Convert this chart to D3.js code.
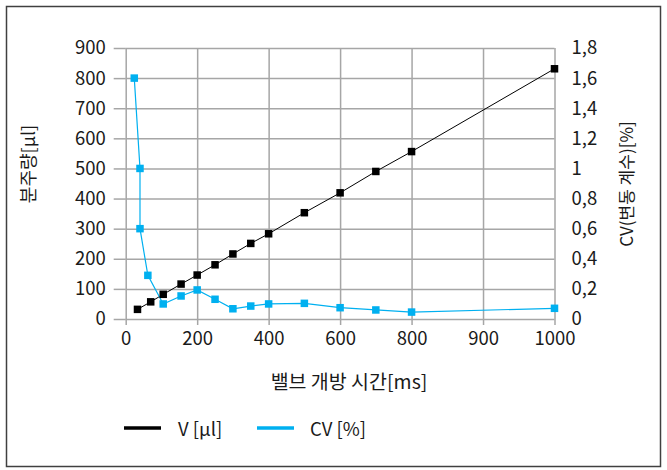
<!DOCTYPE html>
<html><head><meta charset="utf-8">
<script src="https://cdn.jsdelivr.net/npm/d3@7"></script>
<style>body{margin:0;background:#fff;} text{font-family:"Noto Sans CJK KR","Noto Sans",sans-serif;}</style>
</head><body><svg id="c" width="667" height="470"></svg>
<script>
// Data
const vTimes = [33, 70, 105, 155, 200, 250, 300, 350, 400, 500, 600, 700, 800, 1200];
const vValues = [32, 57, 82, 116, 146, 180, 216, 251, 283, 353, 419, 490, 556, 831];
const cvTimes = [24, 40, 40, 62, 105, 155, 200, 250, 300, 350, 400, 500, 600, 700, 800, 1200];
const cvValues = [1.6, 1.0, 0.6, 0.29, 0.10, 0.153, 0.193, 0.131, 0.068, 0.086, 0.10, 0.104, 0.075, 0.06, 0.046, 0.071];
const xTickValues = [0, 200, 400, 600, 800, 1000, 1200];
const xTickLabels = ["0", "200", "400", "600", "800", "900", "1000"];
const yLeftTicks = [0, 100, 200, 300, 400, 500, 600, 700, 800, 900];
const yRightTicks = [0, 0.2, 0.4, 0.6, 0.8, 1, 1.2, 1.4, 1.6, 1.8];
const xTitle = "밸브 개방 시간[ms]";
const yLeftTitle = "분주량[μl]";
const yRightTitle = "CV(변동 계수)[%]";
const legendNames = ["V [μl]", "CV [%]"];

const svg = d3.select("#c");
const L = 125.7, R = 554.5, T = 48, B = 319;
const x = d3.scaleLinear().domain([0, 1200]).range([L, R]);
const yL = d3.scaleLinear().domain([0, 900]).range([B, T]);
const yR = d3.scaleLinear().domain([0, 1.8]).range([B, T]);
const gridCol = "#a6a6a6";
const blue = "#00b0f0";
const txt = "#1a1a1a";
const fs = 18.5;

svg.append("rect").attr("x", 6.5).attr("y", 6.5).attr("width", 654).attr("height", 460)
  .attr("fill", "#fff").attr("stroke", "#404040").attr("stroke-width", 1.5);

// horizontal grid + left ticks
const gl = svg.append("g").attr("transform", `translate(${L},0)`)
  .call(d3.axisLeft(yL).tickValues(yLeftTicks).tickSize(12).tickPadding(8).tickFormat(d3.format("d")));
gl.select(".domain").remove();
gl.selectAll(".tick line").attr("stroke", gridCol).attr("stroke-width", 1.5);
gl.selectAll(".tick").append("line").attr("x1", 0).attr("x2", R - L).attr("stroke", gridCol).attr("stroke-width", 1.5);
gl.selectAll("text").attr("font-size", fs).attr("fill", txt).attr("font-family", "'Noto Sans',sans-serif");

// vertical grid + bottom ticks
const gb = svg.append("g").attr("transform", `translate(0,${B})`)
  .call(d3.axisBottom(x).tickValues(xTickValues).tickSize(6).tickPadding(7)
    .tickFormat((d, i) => xTickLabels[i]));
gb.select(".domain").remove();
gb.selectAll(".tick line").attr("stroke", gridCol).attr("stroke-width", 1.5);
gb.selectAll(".tick").append("line").attr("y1", 0).attr("y2", T - B).attr("stroke", gridCol).attr("stroke-width", 1.5);
gb.selectAll("text").attr("font-size", fs).attr("fill", txt).attr("font-family", "'Noto Sans',sans-serif");

// right axis
const gr = svg.append("g").attr("transform", `translate(${R},0)`)
  .call(d3.axisRight(yR).tickValues(yRightTicks).tickSize(0).tickPadding(17)
    .tickFormat(d => (Math.round(d * 10) / 10).toString().replace(".", ",")));
gr.select(".domain").remove();
gr.selectAll("text").attr("font-size", fs).attr("fill", txt).attr("font-family", "'Noto Sans',sans-serif");

// lines
const vData = vTimes.map((t, i) => [t, vValues[i]]);
const cvData = cvTimes.map((t, i) => [t, cvValues[i]]);
svg.append("path").datum(vData).attr("fill", "none").attr("stroke", "#000").attr("stroke-width", 1)
  .attr("d", d3.line().x(d => x(d[0])).y(d => yL(d[1])));
svg.append("path").datum(cvData).attr("fill", "none").attr("stroke", blue).attr("stroke-width", 1.2)
  .attr("d", d3.line().x(d => x(d[0])).y(d => yR(d[1])));
const ms = 7.5;
svg.append("g").selectAll("rect").data(vData).join("rect")
  .attr("x", d => x(d[0]) - ms / 2).attr("y", d => yL(d[1]) - ms / 2).attr("width", ms).attr("height", ms).attr("fill", "#000");
svg.append("g").selectAll("rect").data(cvData).join("rect")
  .attr("x", d => x(d[0]) - ms / 2).attr("y", d => yR(d[1]) - ms / 2).attr("width", ms).attr("height", ms).attr("fill", blue);

// titles
svg.append("text").attr("x", 349).attr("y", 389).attr("text-anchor", "middle").attr("font-size", 19.5).attr("fill", txt).text(xTitle);
svg.append("text").attr("transform", "translate(35,164) rotate(-90)").attr("text-anchor", "middle").attr("font-size", 18).attr("fill", txt).text(yLeftTitle);
svg.append("text").attr("transform", "translate(633,184) rotate(-90)").attr("text-anchor", "middle").attr("font-size", 17).attr("fill", txt).text(yRightTitle);

// legend
const leg = [{c: "#000", x: 124, tx: 178}, {c: blue, x: 257, tx: 310}];
leg.forEach((l, i) => {
  svg.append("line").attr("x1", l.x).attr("x2", l.x + 37).attr("y1", 428).attr("y2", 428).attr("stroke", l.c).attr("stroke-width", 3.5);
  svg.append("text").attr("x", l.tx).attr("y", 436).attr("font-size", fs).attr("fill", txt).text(legendNames[i]);
});
</script></body></html>
